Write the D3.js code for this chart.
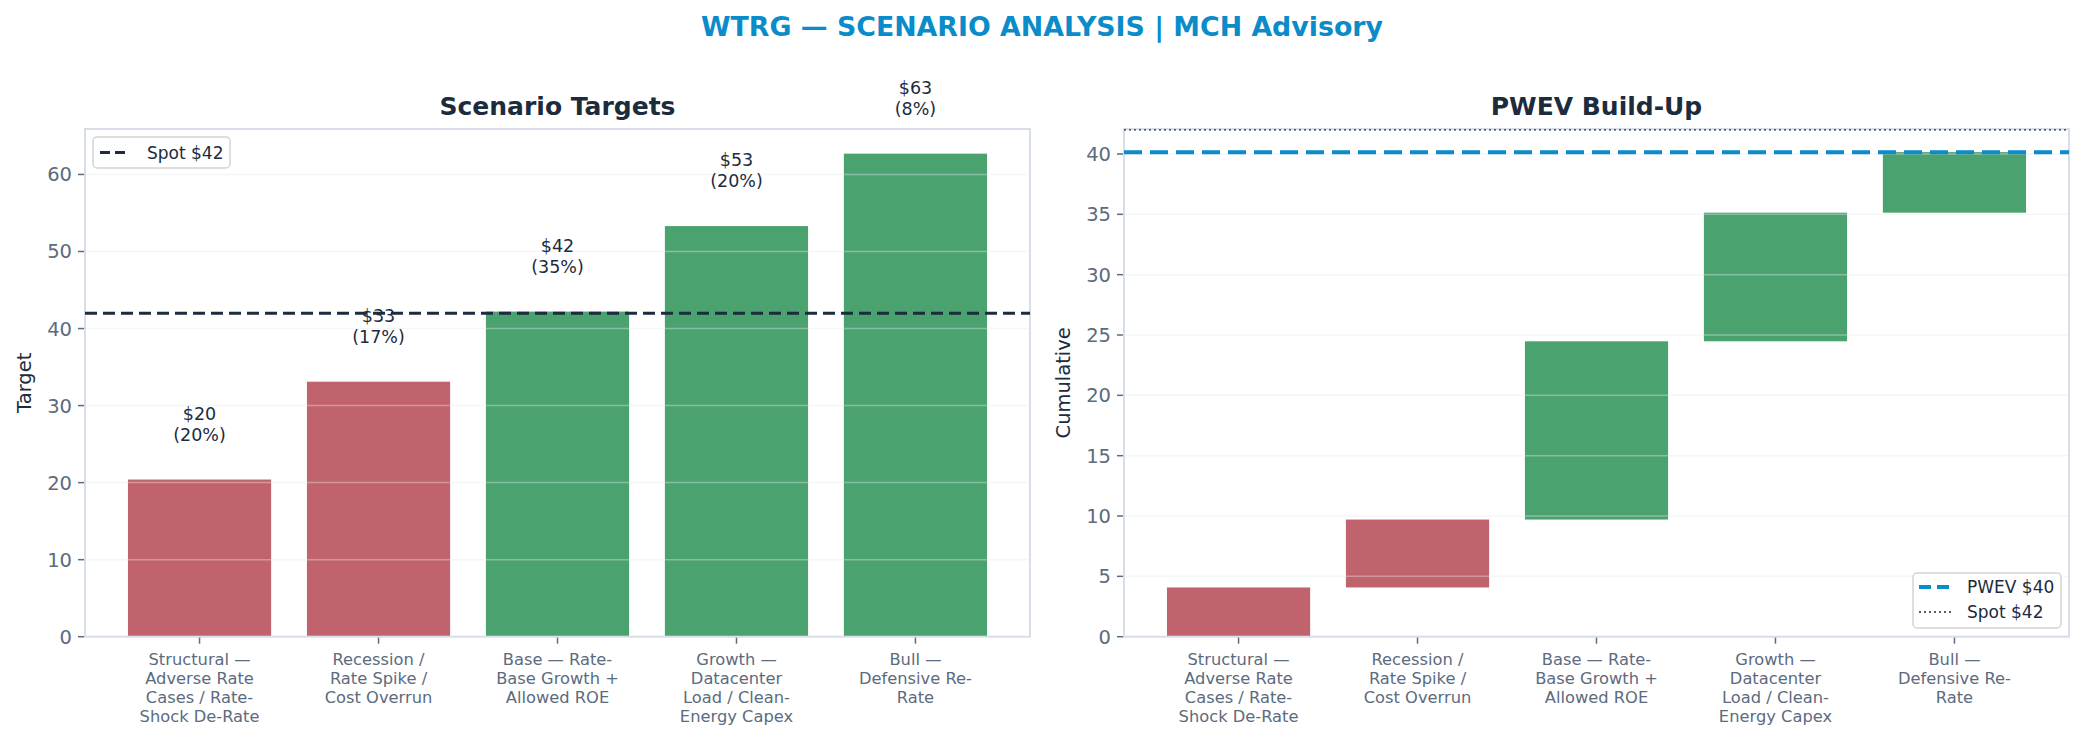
<!DOCTYPE html>
<html>
<head>
<meta charset="utf-8">
<script src="https://cdn.jsdelivr.net/npm/d3@7"></script>
<style>
  body { margin:0; background:#fff; }
  svg { display:block; font-family:"DejaVu Sans", sans-serif; }
</style>
</head>
<body>
<svg id="chart" width="2084" height="742"></svg>
<script>
// scenario data
const scenarios = [
  "Structural —\nAdverse Rate\nCases / Rate-\nShock De-Rate",
  "Recession /\nRate Spike /\nCost Overrun",
  "Base — Rate-\nBase Growth +\nAllowed ROE",
  "Growth —\nDatacenter\nLoad / Clean-\nEnergy Capex",
  "Bull —\nDefensive Re-\nRate"
];
const targets = [20.4, 33.1, 42.2, 53.3, 62.7];
const probs = [0.20, 0.17, 0.35, 0.20, 0.08];
const spot = 42;
const leftTicks = [0, 10, 20, 30, 40, 50, 60];
const rightTicks = [0, 5, 10, 15, 20, 25, 30, 35, 40];

const RED = "#c0636c", GREEN = "#4aa26f", BLUE = "#0a8bca";
const INK = "#1c2b3d", TICK = "#5c6b7e", SPINE = "#d8dee8";

const svg = d3.select("#chart");

// main title
svg.append("text").attr("x", 1042).attr("y", 36).attr("text-anchor","middle")
  .style("font-size","26.8px").style("font-weight","bold").style("fill",BLUE)
  .text("WTRG — SCENARIO ANALYSIS | MCH Advisory");

// waterfall pieces
let run = 0;
const steps = targets.map((v,i)=>{ const c = v*probs[i]; const s = {i, lo:run, hi:run+c}; run += c; return s; });
const pwev = run;

function panel(opts){
  const {x0, x1, top, bottom, ymax, ticks, title, ylabel, ylabelX} = opts;
  const g = svg.append("g");
  const x = d3.scaleBand().domain(d3.range(scenarios.length)).range([x0, x1]).paddingInner(0.2).paddingOuter(0.24);
  const y = d3.scaleLinear().domain([0, ymax]).range([bottom, top]);

  g.append("text").attr("x",(x0+x1)/2).attr("y",115).attr("text-anchor","middle")
    .style("font-size","25px").style("font-weight","bold").style("fill",INK).text(title);

  const bars = g.append("g");
  const grid = g.append("g");
  ticks.forEach(t=>{
    if(t===0) return;
    grid.append("line").attr("x1",x0).attr("x2",x1).attr("y1",y(t)).attr("y2",y(t))
      .attr("stroke","#e3e8ee").attr("stroke-opacity",0.4).attr("stroke-width",1.5);
  });

  // y ticks
  const ya = g.append("g");
  ticks.forEach(t=>{
    ya.append("line").attr("x1",x0-7).attr("x2",x0).attr("y1",y(t)).attr("y2",y(t)).attr("stroke",TICK).attr("stroke-width",1.5);
    ya.append("text").attr("x",x0-13).attr("y",y(t)+7).attr("text-anchor","end")
      .style("font-size","19.5px").style("fill",TICK).text(t);
  });
  // x ticks + labels
  scenarios.forEach((s,i)=>{
    const cx = x(i)+x.bandwidth()/2;
    g.append("line").attr("x1",cx).attr("x2",cx).attr("y1",bottom).attr("y2",bottom+7).attr("stroke",TICK).attr("stroke-width",1.5);
    const t = g.append("text").attr("text-anchor","middle").style("font-size","16.3px").style("fill",TICK);
    s.split("\n").forEach((ln,k)=>{
      t.append("tspan").attr("x",cx).attr("y",665+k*19).text(ln);
    });
  });
  // spines
  g.append("rect").attr("x",x0).attr("y",top).attr("width",x1-x0).attr("height",bottom-top)
    .attr("fill","none").attr("stroke",SPINE).attr("stroke-width",2);

  g.append("text").attr("transform",`translate(${ylabelX},${(top+bottom)/2}) rotate(-90)`)
    .attr("text-anchor","middle").style("font-size","19.5px").style("fill",INK).text(ylabel);

  return {g, x, y, bars};
}

// left: scenario targets
const L = panel({x0:85, x1:1030, top:129, bottom:636.7, ymax:65.9, ticks:leftTicks,
  title:"Scenario Targets", ylabel:"Target", ylabelX:31});
targets.forEach((v,i)=>{
  L.bars.append("rect").attr("x",L.x(i)).attr("width",L.x.bandwidth())
    .attr("y",L.y(v)).attr("height",L.y(0)-L.y(v)).attr("fill", v < spot ? RED : GREEN);
});
L.g.append("line").attr("x1",85).attr("x2",1030).attr("y1",L.y(spot)).attr("y2",L.y(spot))
  .attr("stroke",INK).attr("stroke-width",3).attr("stroke-dasharray","12,6");
targets.forEach((v,i)=>{
  const cx = L.x(i)+L.x.bandwidth()/2;
  const t = L.g.append("text").attr("text-anchor","middle").style("font-size","17.5px").style("fill",INK);
  t.append("tspan").attr("x",cx).attr("y",L.y(v)-60).text("$"+Math.round(v));
  t.append("tspan").attr("x",cx).attr("y",L.y(v)-39).text("("+Math.round(probs[i]*100)+"%)");
});
// left legend
const lg = L.g.append("g");
lg.append("rect").attr("x",93).attr("y",137).attr("width",137).attr("height",31).attr("rx",4)
  .attr("fill","#fff").attr("fill-opacity",0.85).attr("stroke","#d4d4d4").attr("stroke-width",1.5);
lg.append("line").attr("x1",100).attr("x2",129).attr("y1",152.5).attr("y2",152.5)
  .attr("stroke",INK).attr("stroke-width",3).attr("stroke-dasharray","10,5");
lg.append("text").attr("x",147).attr("y",158.5).style("font-size","17px").style("fill",INK).text("Spot $"+spot);

// right: PWEV build-up
const R = panel({x0:1124, x1:2069, top:129, bottom:636.7, ymax:42.07, ticks:rightTicks,
  title:"PWEV Build-Up", ylabel:"Cumulative", ylabelX:1070});
steps.forEach(s=>{
  R.bars.append("rect").attr("x",R.x(s.i)).attr("width",R.x.bandwidth())
    .attr("y",R.y(s.hi)).attr("height",R.y(s.lo)-R.y(s.hi)).attr("fill", targets[s.i] < spot ? RED : GREEN);
});
R.g.append("line").attr("x1",1124).attr("x2",2069).attr("y1",R.y(pwev)).attr("y2",R.y(pwev))
  .attr("stroke",BLUE).attr("stroke-width",4).attr("stroke-dasharray","18,8");
R.g.append("line").attr("x1",1124).attr("x2",2069).attr("y1",R.y(spot)).attr("y2",R.y(spot))
  .attr("stroke",INK).attr("stroke-width",1.4).attr("stroke-dasharray","2,3");
const rg = R.g.append("g");
rg.append("rect").attr("x",1913).attr("y",573).attr("width",148).attr("height",55).attr("rx",4)
  .attr("fill","#fff").attr("fill-opacity",0.85).attr("stroke","#d4d4d4").attr("stroke-width",1.5);
rg.append("line").attr("x1",1919).attr("x2",1953).attr("y1",587).attr("y2",587)
  .attr("stroke",BLUE).attr("stroke-width",4).attr("stroke-dasharray","12,6");
rg.append("line").attr("x1",1919).attr("x2",1953).attr("y1",612).attr("y2",612)
  .attr("stroke",INK).attr("stroke-width",1.4).attr("stroke-dasharray","2,3");
rg.append("text").attr("x",1967).attr("y",593).style("font-size","17px").style("fill",INK).text("PWEV $"+Math.round(pwev));
rg.append("text").attr("x",1967).attr("y",618).style("font-size","17px").style("fill",INK).text("Spot $"+spot);
</script>
</body>
</html>
